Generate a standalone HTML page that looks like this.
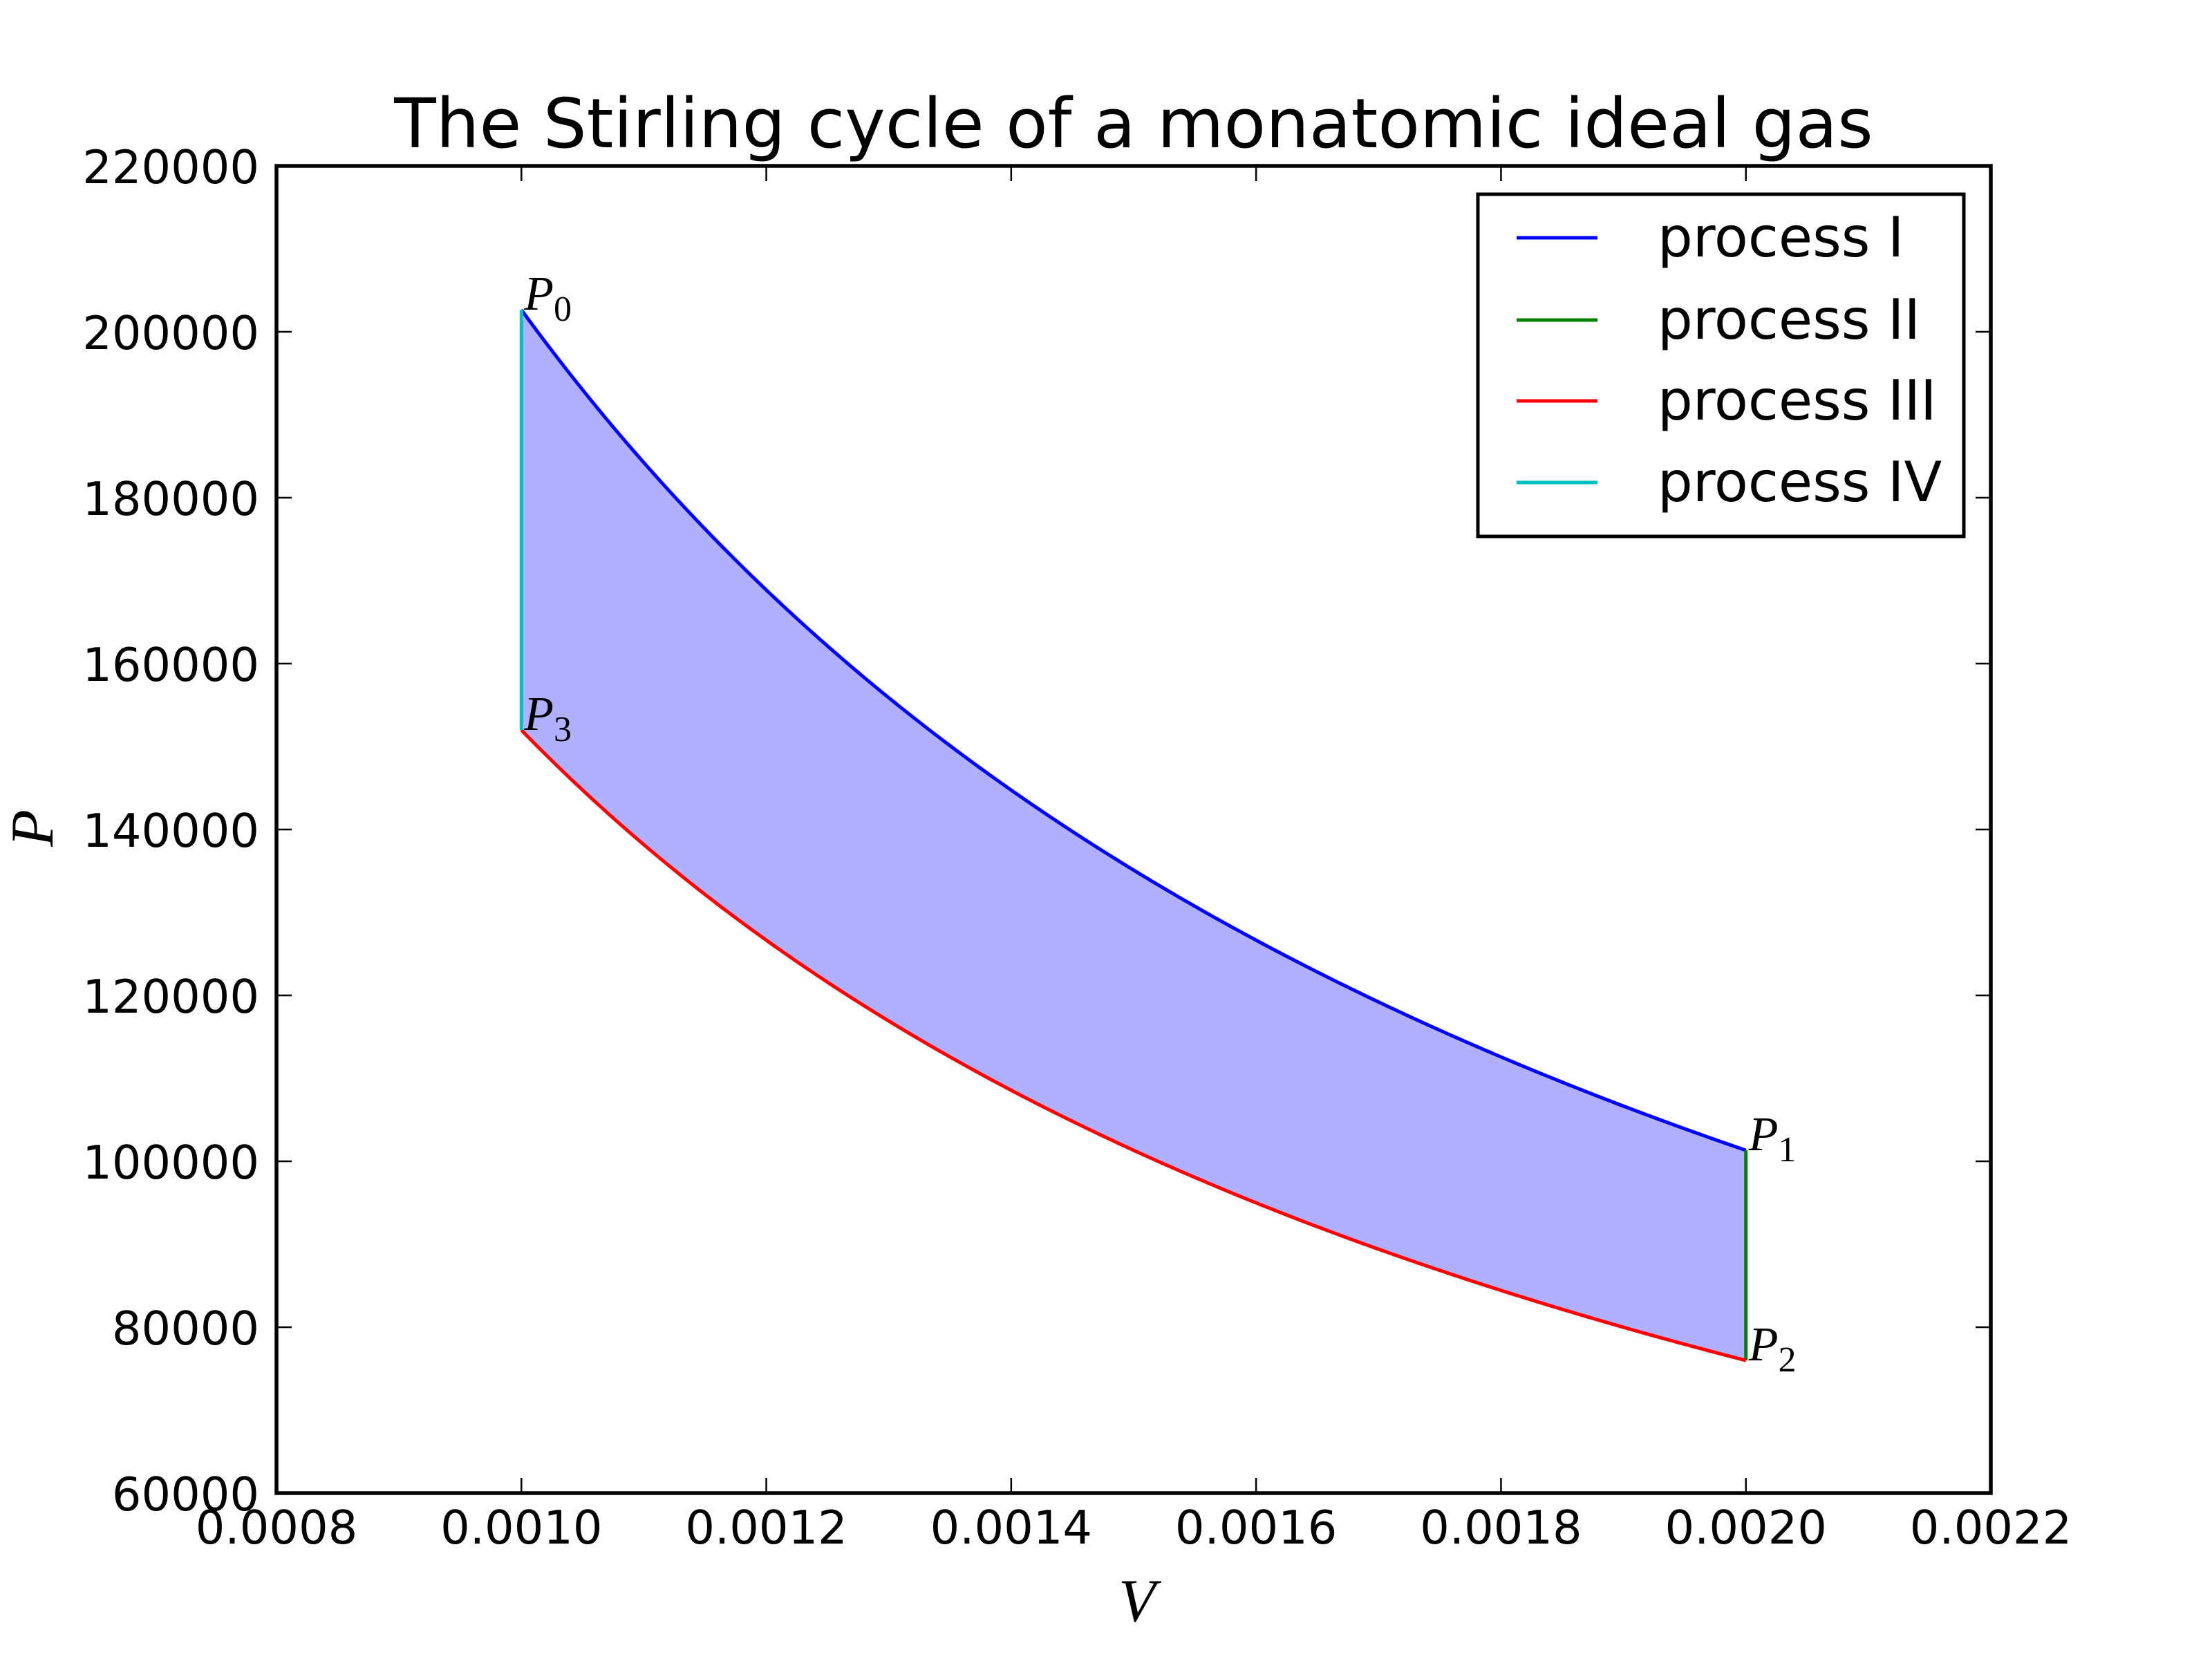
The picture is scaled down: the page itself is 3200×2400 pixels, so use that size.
<!DOCTYPE html>
<html><head><meta charset="utf-8"><style>
html,body{margin:0;padding:0;background:#fff;}
svg{display:block;}
text{font-family:"DejaVu Sans","Liberation Sans",sans-serif;}
.math{font-family:"Liberation Serif","DejaVu Serif",serif;font-style:italic;}
</style></head><body>
<svg id="chart" width="3200" height="2400" viewBox="0 0 3200 2400" xmlns="http://www.w3.org/2000/svg">
<rect width="3200" height="2400" fill="#fff"/>
<g id="plot"></g>
</svg>
<script>
const V0 = 0.0010;
const V1 = 0.0020;
const isoHighConst = 202.65;
const isoLowConst = 151.9875;
const xTicks = [0.0008,0.0010,0.0012,0.0014,0.0016,0.0018,0.0020,0.0022];
const xTickLabels = ["0.0008","0.0010","0.0012","0.0014","0.0016","0.0018","0.0020","0.0022"];
const yTicks = [60000,80000,100000,120000,140000,160000,180000,200000,220000];
const yTickLabels = ["60000","80000","100000","120000","140000","160000","180000","200000","220000"];
const seriesNames = ["process I","process II","process III","process IV"];
const seriesColors = ["#0000ff","#008000","#ff0000","#00bfbf"];
const pointLabels = ["0","1","2","3"];

const L=400,R=2880,T=240,B=2160;
const xMin=0.0008,xMax=0.0022,yMin=60000,yMax=220000;
const sx=v=>L+(v-xMin)/(xMax-xMin)*(R-L);
const sy=p=>B-(p-yMin)/(yMax-yMin)*(B-T);
const NS="http://www.w3.org/2000/svg";
const g=document.getElementById('plot');
function mk(tag,attrs,parent){const e=document.createElementNS(NS,tag);for(const k in attrs)e.setAttribute(k,attrs[k]);(parent||g).appendChild(e);return e;}

const N=200;
const vs=[];for(let i=0;i<=N;i++)vs.push(V0+(V1-V0)*i/N);
const hi=vs.map(v=>isoHighConst/v);
const lo=vs.map(v=>isoLowConst/v);
const P0=hi[0],P1=hi[N],P2=lo[N],P3=lo[0];

let d="M"+vs.map((v,i)=>sx(v)+","+sy(hi[i])).join(" L");
for(let i=N;i>=0;i--)d+=" L"+sx(vs[i])+","+sy(lo[i]);
d+="Z";
const fill=mk('path',{d:d,fill:'#b0b0ff',stroke:'none'});



function poly(xs,ys,color,name){
  const p=mk('polyline',{points:xs.map((x,i)=>sx(x)+","+sy(ys[i])).join(" "),fill:'none',stroke:color,'stroke-width':5,'stroke-linejoin':'round'});
  
  
}
poly(vs,hi,seriesColors[0],'process-i-line');
poly([V1,V1],[P1,P2],seriesColors[1],'process-ii-line');
poly(vs,lo,seriesColors[2],'process-iii-line');
poly([V0,V0],[P3,P0],seriesColors[3],'process-iv-line');

const pts=[[V0,P0],[V1,P1],[V1,P2],[V0,P3]];
pts.forEach((pt,i)=>{
  const t=mk('text',{x:sx(pt[0])+4,y:sy(pt[1]),'font-size':70,class:'math'});
  
  
  t.innerHTML='P<tspan font-style="normal" font-size="52" dy="16">'+pointLabels[i]+'</tspan>';
});

const fr=mk('rect',{x:L,y:T,width:R-L,height:B-T,fill:'none',stroke:'#000','stroke-width':5.5});



xTicks.forEach((v,i)=>{
  const x=sx(v);
  mk('line',{x1:x,y1:B,x2:x,y2:B-22,stroke:'#000','stroke-width':2.5});
  mk('line',{x1:x,y1:T,x2:x,y2:T+22,stroke:'#000','stroke-width':2.5});
  const t=mk('text',{x:x,y:2233,'font-size':67,'text-anchor':'middle'});
  
  
  t.textContent=xTickLabels[i];
});
yTicks.forEach((p,i)=>{
  const y=sy(p);
  mk('line',{x1:L,y1:y,x2:L+22,y2:y,stroke:'#000','stroke-width':2.5});
  mk('line',{x1:R,y1:y,x2:R-22,y2:y,stroke:'#000','stroke-width':2.5});
  const t=mk('text',{x:375,y:y+25,'font-size':67,'text-anchor':'end'});
  
  
  t.textContent=yTickLabels[i];
});

const title=mk('text',{x:1640,y:213,'font-size':99,'text-anchor':'middle'});


title.textContent='The Stirling cycle of a monatomic ideal gas';
const xl=mk('text',{x:1645,y:2345,'font-size':88,'text-anchor':'middle',class:'math'});


xl.textContent='V';
const yl=mk('text',{x:0,y:0,'font-size':88,'text-anchor':'middle',class:'math',transform:'translate(76,1198) rotate(-90)'});


yl.textContent='P';

const LX=2138;
const lg=mk('rect',{x:LX,y:281,width:703,height:495,fill:'#fff',stroke:'#000','stroke-width':5});


const lys=[344,463,580,698];
seriesNames.forEach((n,i)=>{
  const ln=mk('line',{x1:LX+56,y1:lys[i],x2:LX+173,y2:lys[i],stroke:seriesColors[i],'stroke-width':5});
  
  
  const t=mk('text',{x:LX+260,y:lys[i]+27,'font-size':80});
  
  
  t.textContent=n;
});
</script>
</body></html>
